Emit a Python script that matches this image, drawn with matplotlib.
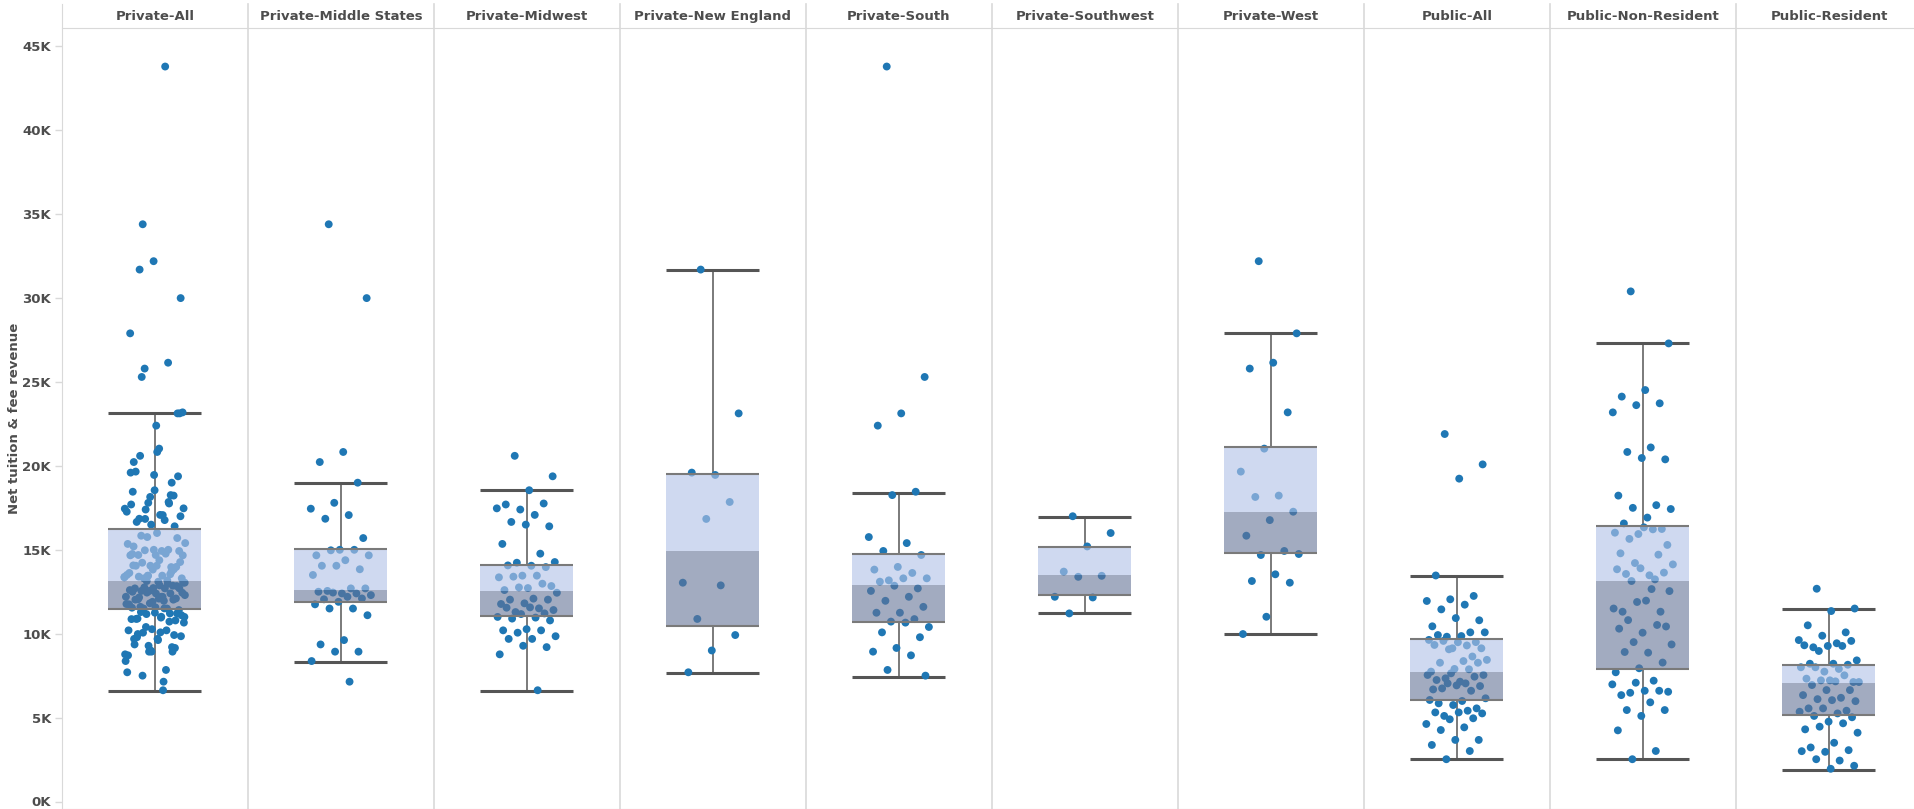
import numpy as np
import matplotlib.pyplot as plt

categories = ['Private-All', 'Private-Middle States', 'Private-Midwest', 'Private-New England',
              'Private-South', 'Private-Southwest', 'Private-West', 'Public-All',
              'Public-Non-Resident', 'Public-Resident']

# Net tuition & fee revenue per institution, in thousands of dollars
middle_states = [34.4, 30.0, 20.83, 20.23, 19.0, 17.8, 17.45, 17.07, 16.85, 15.7, 15.0, 14.67,
                 15.0, 14.97, 14.67, 14.38, 14.05, 13.84, 14.05, 13.5, 12.7, 12.55, 12.7, 12.4,
                 12.5, 12.4, 12.45, 12.3, 12.2, 12.05, 12.1, 11.9, 11.75, 11.5, 11.5, 11.1,
                 9.62, 9.36, 8.93, 8.93, 8.37, 7.14]
midwest = [20.6, 19.38, 18.55, 17.7, 17.76, 17.4, 17.47, 17.08, 16.66, 16.4, 16.5, 15.35,
           14.77, 14.23, 14.27, 14.05, 14.07, 13.97, 13.46, 13.36, 13.46, 13.4, 12.84, 12.72,
           12.6, 12.98, 12.76, 12.44, 12.09, 12.03, 12.03, 11.81, 11.77, 11.51, 11.29, 11.41,
           11.57, 11.55, 11.21, 11.17, 11.0, 10.96, 10.9, 10.79, 10.27, 10.2, 10.2, 10.06,
           9.85, 9.69, 9.69, 9.2, 9.28, 8.77, 6.63]
new_england = [31.7, 23.13, 19.46, 19.6, 17.85, 16.84, 13.04, 12.88, 10.88, 9.92, 9.0, 7.7]
south = [43.8, 25.3, 23.13, 22.4, 18.46, 18.26, 15.76, 15.4, 14.93, 14.69, 13.98, 13.82,
         13.62, 13.18, 13.3, 13.3, 13.1, 12.7, 12.86, 12.55, 12.2, 11.96, 11.6, 11.25,
         11.25, 10.87, 10.72, 10.4, 10.66, 10.08, 9.79, 9.15, 8.93, 8.71, 7.84, 7.5]
southwest = [17.0, 16.0, 15.2, 13.7, 13.45, 13.39, 12.2, 12.16, 11.21]
west = [32.2, 27.9, 26.15, 25.8, 23.19, 21.03, 19.66, 18.23, 18.15, 17.27, 16.77, 15.84,
        14.93, 14.69, 14.75, 13.54, 13.14, 13.04, 11.01, 9.98]
private_all = middle_states + midwest + new_england + south + southwest + west
public_all = [21.9, 20.09, 19.24, 13.47, 12.25, 12.05, 11.95, 11.73, 11.45, 10.8, 10.93, 10.44,
              10.08, 9.82, 10.08, 9.86, 9.92, 9.5, 9.13, 9.63, 9.3, 9.57, 9.13, 9.49, 9.33,
              8.64, 9.07, 8.44, 8.37, 8.27, 8.27, 7.9, 7.74, 7.88, 7.34, 7.54, 7.14, 7.24,
              7.44, 7.64, 7.54, 7.04, 6.74, 6.88, 6.92, 6.68, 6.6, 7.04, 6.15, 5.99, 5.85,
              5.55, 5.75, 6.05, 5.41, 5.1, 5.25, 5.31, 5.31, 4.96, 4.9, 4.62, 4.42, 4.26,
              3.67, 3.67, 3.37, 3.01, 2.52]
public_nonres = [30.4, 27.3, 24.52, 24.13, 23.73, 23.62, 23.19, 21.1, 20.83, 20.39, 20.47,
                 18.23, 17.66, 17.5, 17.43, 16.92, 16.57, 16.24, 15.94, 16.02, 16.22, 15.65,
                 15.29, 16.34, 14.79, 14.71, 14.21, 14.13, 13.48, 13.56, 13.64, 13.9, 13.84,
                 13.24, 13.14, 12.54, 11.97, 11.31, 11.31, 11.89, 11.5, 12.66, 10.81, 10.43,
                 10.06, 10.3, 10.52, 9.5, 9.36, 8.87, 8.91, 8.28, 7.94, 7.7, 7.2, 6.48, 6.54,
                 6.6, 6.34, 6.6, 7.08, 6.98, 5.91, 5.45, 5.45, 5.1, 4.24, 3.01, 2.52]
public_res = [12.68, 11.5, 11.35, 10.5, 10.08, 9.88, 9.62, 9.43, 9.19, 9.57, 9.27, 9.31, 9.27,
              8.97, 8.41, 8.21, 8.21, 8.15, 7.74, 8.0, 7.9, 8.0, 7.12, 7.22, 7.32, 7.52,
              7.22, 7.12, 7.16, 6.94, 6.64, 6.64, 6.34, 6.18, 6.1, 5.98, 6.04, 5.55, 5.41,
              5.55, 5.35, 5.25, 5.1, 5.02, 4.76, 4.3, 4.66, 4.46, 4.1, 3.5, 3.22, 3.06, 2.96,
              3.0, 2.44, 2.52, 2.13, 1.95]
points = [private_all, middle_states, midwest, new_england, south, southwest, west,
          public_all, public_nonres, public_res]

# box plot summary (thousands)
whisker_lo = [6.6, 8.31, 6.59, 7.66, 7.44, 11.25, 9.96, 2.55, 2.55, 1.9]
q1 = [11.45, 11.89, 11.07, 10.44, 10.72, 12.31, 14.79, 6.05, 7.9, 5.17]
median = [13.15, 12.62, 12.56, 14.93, 12.9, 13.48, 17.23, 7.72, 13.16, 7.08]
q3 = [16.25, 15.07, 14.11, 19.52, 14.77, 15.19, 21.1, 9.7, 16.44, 8.13]
whisker_hi = [23.17, 19.0, 18.55, 31.65, 18.4, 16.97, 27.94, 13.42, 27.3, 11.49]

W, H = 1915, 809
left_px, top_px = 62, 28
fig = plt.figure(figsize=(W / 100, H / 100), dpi=100)
ax = fig.add_axes([left_px / W, 0, (W - left_px) / W, (H - top_px) / H])

text_col = '#4d4d4d'
line_col = '#d9d9d9'
dot_col = '#1f77b4'
light_box = (178 / 255, 194 / 255, 231 / 255)
dark_box = (100 / 255, 115 / 255, 150 / 255)
box_w = 0.5
jit_w = 0.33
font = dict(fontsize=9.5, fontweight='bold', color=text_col, family='DejaVu Sans')

for i, vals in enumerate(points):
    c = i + 0.5
    n = len(vals)
    offs = ((np.arange(n) * 0.6180339887 + 0.3) % 1 - 0.5) * jit_w
    ax.scatter(c + offs, vals, s=32, color=dot_col, edgecolors='none', zorder=3)
    # whiskers and caps
    ax.plot([c, c], [q3[i], whisker_hi[i]], color='#707070', lw=1.3, zorder=2)
    ax.plot([c, c], [whisker_lo[i], q1[i]], color='#707070', lw=1.3, zorder=2)
    for y in (whisker_lo[i], whisker_hi[i]):
        ax.plot([c - box_w / 2, c + box_w / 2], [y, y], color='#555555', lw=2.2, zorder=2,
                solid_capstyle='butt')
    # two-tone box
    ax.bar(c, q3[i] - median[i], bottom=median[i], width=box_w, color=light_box,
           alpha=0.62, zorder=4, linewidth=0)
    ax.bar(c, median[i] - q1[i], bottom=q1[i], width=box_w, color=dark_box,
           alpha=0.6, zorder=4, linewidth=0)
    for y in (q1[i], q3[i]):
        ax.plot([c - box_w / 2, c + box_w / 2], [y, y], color='#7a7a7a', lw=1.5, zorder=5,
                solid_capstyle='butt')
    if i > 0:
        ax.axvline(i, ymin=0, ymax=1 + 24 / (H - top_px), color=line_col, lw=1.2,
                   clip_on=False, zorder=1)
    ax.text(c, 1 + 12 / (H - top_px), categories[i], transform=ax.get_xaxis_transform(),
            ha='center', va='center', **font)

ax.set_xlim(0, (W - left_px) / 186)
ax.set_ylim((801.5 - H) / 16.78, (801.5 - top_px) / 16.78)
yt = np.arange(0, 46, 5)
ax.set_yticks(yt)
ax.set_yticklabels([f'{v}K' for v in yt], **font)
ax.tick_params(axis='y', length=5, width=1, color=line_col, pad=3)
ax.set_xticks([])
for side in ('top', 'bottom', 'right'):
    ax.spines[side].set_color(line_col)
ax.spines['right'].set_visible(False)
ax.spines['left'].set_color(line_col)
ax.spines['left'].set_bounds(ax.get_ylim()[0], ax.get_ylim()[1] + 24 / 16.78)
ax.spines['left'].set_zorder(1)
ax.set_ylabel('Net tuition & fee revenue', labelpad=1, **font)

fig.savefig('out.png', dpi=100)
